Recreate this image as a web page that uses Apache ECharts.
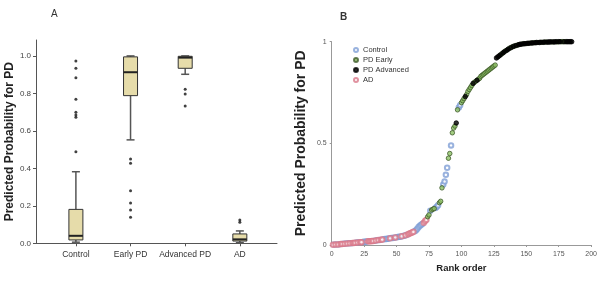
<!DOCTYPE html>
<html>
<head>
<meta charset="utf-8">
<script src="https://cdn.jsdelivr.net/npm/echarts@6/dist/echarts.min.js"></script>
<style>
  html, body { margin: 0; padding: 0; background: #fff; }
  #chart { width: 600px; height: 281px; }
</style>
</head>
<body>
<div id="chart"></div>
<script>
// panel A: box plot summaries
var groupsA = ['Control', 'Early PD', 'Advanced PD', 'AD'];
var yTicksA = [0, 0.2, 0.4, 0.6, 0.8, 1.0];
var whiskerLow = [0.006, 0.552, 0.902, 0.003];
var q1 = [0.018, 0.788, 0.934, 0.012];
var median = [0.04, 0.913, 0.991, 0.021];
var q3 = [0.181, 0.995, 0.998, 0.05];
var whiskerHigh = [0.382, 1.0, 1.0, 0.066];
var outControl = [0.973, 0.934, 0.884, 0.769, 0.699, 0.685, 0.673, 0.489];
var outEarly = [0.45, 0.427, 0.281, 0.215, 0.178, 0.139];
var outAdvanced = [0.822, 0.797, 0.733];
var outAD = [0.124, 0.112];

// panel B: [rank, predicted probability]
var control = [[2,0.002],[4,0.003],[6,0.004],[9,0.006],[11,0.007],[13,0.008],[15,0.009],[19,0.012],[21,0.013],[24,0.015],[25,0.016],[26,0.016],[27,0.017],[33,0.021],[35,0.023],[37,0.025],[40,0.028],[41,0.029],[42,0.030],[43,0.031],[44,0.032],[46,0.034],[47,0.035],[48,0.036],[50,0.038],[51,0.039],[52,0.040],[53,0.041],[55,0.044],[56,0.045],[58,0.050],[64,0.068],[65,0.073],[66,0.080],[67,0.088],[68,0.095],[69,0.100],[70,0.104],[76,0.168],[80,0.182],[81,0.188],[82,0.195],[86,0.298],[87,0.312],[88,0.345],[89,0.38],[92,0.49],[98,0.676],[99,0.688]];
var pdEarly = [[74,0.139],[75,0.148],[77,0.172],[78,0.176],[79,0.179],[83,0.208],[84,0.215],[85,0.281],[90,0.427],[91,0.45],[93,0.552],[94,0.575],[95,0.585],[97,0.665],[100,0.70],[101,0.71],[102,0.72],[104,0.74],[105,0.755],[106,0.765],[107,0.775],[108,0.785],[110,0.80],[111,0.805],[113,0.815],[114,0.82],[115,0.83],[116,0.835],[117,0.84],[118,0.845],[119,0.85],[120,0.855],[121,0.86],[122,0.865],[123,0.87],[124,0.875],[125,0.88],[126,0.885],[131,0.94],[134,0.955],[137,0.968],[139,0.974],[141,0.979],[143,0.983],[147,0.989],[150,0.991],[153,0.993],[156,0.995],[159,0.996],[162,0.997],[165,0.998],[170,0.999],[174,0.999],[177,1.0],[178,1.0],[180,1.0]];
var pdAdvanced = [[96,0.60],[103,0.73],[109,0.795],[112,0.81],[127,0.92],[128,0.925],[129,0.93],[130,0.935],[132,0.945],[133,0.95],[135,0.958],[136,0.963],[138,0.97],[140,0.977],[142,0.981],[144,0.985],[145,0.987],[146,0.988],[148,0.990],[149,0.990],[151,0.992],[152,0.992],[154,0.994],[155,0.994],[157,0.995],[158,0.996],[160,0.996],[161,0.997],[163,0.997],[164,0.998],[166,0.998],[167,0.998],[168,0.999],[169,0.999],[171,0.999],[172,0.999],[173,1.0],[175,1.0],[176,1.0],[179,1.0],[181,1.0],[182,1.0],[183,1.0],[184,1.0],[185,1.0]];
var ad = [[1,0.001],[3,0.002],[5,0.003],[7,0.005],[8,0.005],[10,0.006],[12,0.007],[14,0.008],[16,0.010],[17,0.010],[18,0.011],[20,0.012],[22,0.014],[23,0.014],[28,0.018],[29,0.018],[30,0.019],[31,0.020],[32,0.020],[34,0.022],[36,0.024],[38,0.026],[39,0.027],[45,0.033],[49,0.037],[54,0.043],[57,0.048],[59,0.053],[60,0.056],[61,0.059],[62,0.062],[63,0.065],[71,0.110],[72,0.118],[73,0.124]];

var boxData = groupsA.map(function (g, i) {
    return [i, whiskerLow[i], q1[i], median[i], q3[i], whiskerHigh[i]];
});
var outlierData = [];
[outControl, outEarly, outAdvanced, outAD].forEach(function (arr, i) {
    arr.forEach(function (v) { outlierData.push([i, v]); });
});

function renderBox(params, api) {
    var x = api.value(0);
    var low = api.coord([x, api.value(1)]);
    var pq1 = api.coord([x, api.value(2)]);
    var med = api.coord([x, api.value(3)]);
    var pq3 = api.coord([x, api.value(4)]);
    var high = api.coord([x, api.value(5)]);
    var cx = med[0], half = 7, cap = 4;
    var wStyle = { stroke: '#555', lineWidth: 1.5 };
    return {
        type: 'group',
        children: [
            { type: 'line', shape: { x1: cx, y1: high[1], x2: cx, y2: pq3[1] }, style: wStyle },
            { type: 'line', shape: { x1: cx, y1: low[1], x2: cx, y2: pq1[1] }, style: wStyle },
            { type: 'line', shape: { x1: cx - cap, y1: high[1], x2: cx + cap, y2: high[1] }, style: wStyle },
            { type: 'line', shape: { x1: cx - cap, y1: low[1], x2: cx + cap, y2: low[1] }, style: wStyle },
            { type: 'rect', shape: { x: cx - half, y: pq3[1], width: half * 2, height: pq1[1] - pq3[1] },
              style: { fill: '#e6dcaa', stroke: '#333', lineWidth: 1 } },
            { type: 'line', shape: { x1: cx - half, y1: med[1], x2: cx + half, y2: med[1] },
              style: { stroke: '#222', lineWidth: 2 } }
        ]
    };
}

var chart = echarts.init(document.getElementById('chart'));
var option = {
    animation: false,
    textStyle: { fontFamily: 'Liberation Sans, Arial, sans-serif' },
    title: [
        { text: 'A', left: 46, top: 4, textStyle: { fontSize: 10, fontWeight: 'normal', color: '#333' } },
        { text: 'B', left: 335, top: 7, textStyle: { fontSize: 10, fontWeight: 'bold', color: '#333' } }
    ],
    legend: {
        orient: 'vertical',
        left: 353,
        top: 46,
        padding: 0,
        itemGap: 2,
        itemWidth: 4,
        itemHeight: 4,
        textStyle: { fontSize: 7.5, color: '#333' },
        data: ['Control', 'PD Early', 'PD Advanced', 'AD']
    },
    grid: [
        { left: 36, right: 323, top: 40, bottom: 37.7 },
        { left: 331.7, right: 6.7, top: 41.7, bottom: 36 }
    ],
    xAxis: [
        {
            gridIndex: 0, type: 'value', min: -0.73, max: 3.68,
            axisLine: { onZero: false, lineStyle: { color: '#555' } },
            axisTick: { show: true, customValues: [0, 1, 2, 3], length: 3, lineStyle: { color: '#555' } },
            axisLabel: { customValues: [0, 1, 2, 3], formatter: function (v) { return groupsA[v]; },
                         fontSize: 8.5, color: '#333', margin: 7 },
            splitLine: { show: false }
        },
        {
            gridIndex: 1, type: 'value', min: 0, max: 200, interval: 25,
            name: 'Rank order', nameLocation: 'middle', nameGap: 17,
            nameTextStyle: { fontSize: 9.5, fontWeight: 'bold', color: '#222' },
            axisLine: { onZero: false, lineStyle: { color: '#999' } },
            axisTick: { show: true, length: 2, lineStyle: { color: '#999' } },
            axisLabel: { fontSize: 7, color: '#555', margin: 6 },
            splitLine: { show: false }
        }
    ],
    yAxis: [
        {
            gridIndex: 0, type: 'value', min: 0, max: 1.085,
            name: 'Predicted Probability for PD', nameLocation: 'middle', nameGap: 20,
            nameMoveOverlap: false,
            nameTextStyle: { fontSize: 12, fontWeight: 'bold', color: '#222' },
            axisLine: { show: true, onZero: false, lineStyle: { color: '#555' } },
            axisTick: { show: true, customValues: yTicksA, length: 3, lineStyle: { color: '#555' } },
            axisLabel: { customValues: yTicksA, formatter: function (v) { return v.toFixed(1); },
                         hideOverlap: false, fontSize: 8, color: '#444', margin: 5 },
            splitLine: { show: false }
        },
        {
            gridIndex: 1, type: 'value', min: 0, max: 1, interval: 0.5,
            name: 'Predicted Probability for PD', nameLocation: 'middle', nameGap: 24,
            nameMoveOverlap: false,
            nameTextStyle: { fontSize: 14, fontWeight: 'bold', color: '#222' },
            axisLine: { show: true, onZero: false, lineStyle: { color: '#999' } },
            axisTick: { show: true, length: 2, lineStyle: { color: '#999' } },
            axisLabel: { fontSize: 7, color: '#555', margin: 5 },
            splitLine: { show: false }
        }
    ],
    series: [
        {
            type: 'custom', xAxisIndex: 0, yAxisIndex: 0,
            renderItem: renderBox,
            encode: { x: 0, y: [1, 2, 3, 4, 5] },
            data: boxData
        },
        {
            type: 'scatter', xAxisIndex: 0, yAxisIndex: 0,
            symbolSize: 3,
            itemStyle: { color: '#111' },
            data: outlierData
        },
        {
            name: 'Control', type: 'scatter', xAxisIndex: 1, yAxisIndex: 1,
            symbol: 'emptyCircle', symbolSize: 4.5,
            itemStyle: { color: '#7f9fd6', borderWidth: 1 },
            data: control
        },
        {
            name: 'AD', type: 'scatter', xAxisIndex: 1, yAxisIndex: 1,
            symbol: 'emptyCircle', symbolSize: 4.5,
            itemStyle: { color: '#d9788a', borderWidth: 1 },
            data: ad
        },
        {
            name: 'PD Early', type: 'scatter', xAxisIndex: 1, yAxisIndex: 1,
            symbol: 'circle', symbolSize: 4.5,
            itemStyle: { color: '#8cc063', borderColor: '#3e5a2a', borderWidth: 1 },
            data: pdEarly
        },
        {
            name: 'PD Advanced', type: 'scatter', xAxisIndex: 1, yAxisIndex: 1,
            symbol: 'circle', symbolSize: 4.5,
            itemStyle: { color: '#000', borderColor: '#000', borderWidth: 1 },
            data: pdAdvanced
        }
    ]
};
chart.setOption(option);
</script>
</body>
</html>
